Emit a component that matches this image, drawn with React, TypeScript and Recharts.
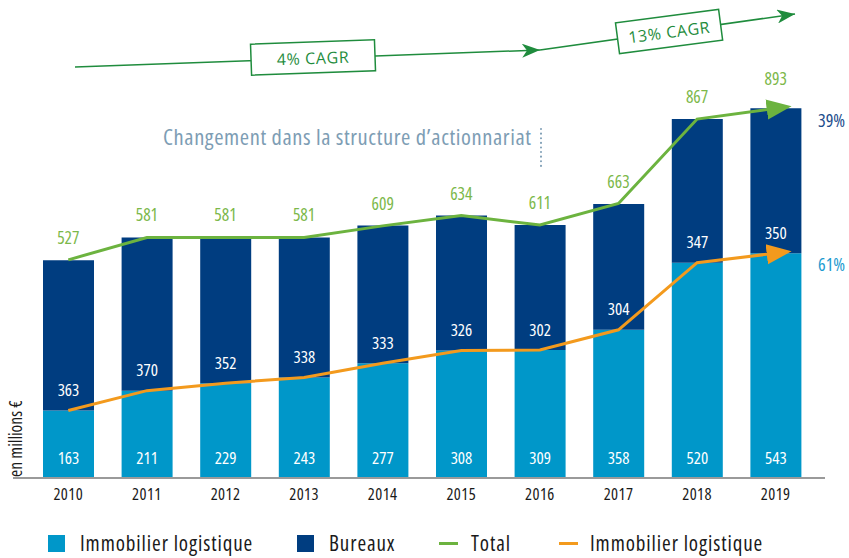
import {
  Bar,
  ComposedChart,
  LabelList,
  Line,
  XAxis,
  YAxis,
} from "recharts";

const FONT = "'Open Sans', 'DejaVu Sans', sans-serif";
const CAGR_FONT = "'Open Sans', 'Lato', sans-serif";

const YEARS = ["2010", "2011", "2012", "2013", "2014", "2015", "2016", "2017", "2018", "2019"];
const LOGISTIQUE = [163, 211, 229, 243, 277, 308, 309, 358, 520, 543];
const BUREAUX = [363, 370, 352, 338, 333, 326, 302, 304, 347, 350];
const TOTAL = [527, 581, 581, 581, 609, 634, 611, 663, 867, 893];

const LIGHT = "#0097c9";
const NAVY = "#003d80";
const GREEN = "#6cb33f";
const GREEN_TXT = "#7cb84a";
const ORANGE = "#f39a1d";
const CAGR_GREEN = "#1f8c3d";

const data = YEARS.map((year, i) => ({
  year,
  logistique: LOGISTIQUE[i],
  bureaux: BUREAUX[i],
  total: TOTAL[i],
}));

// white value label sitting near the bottom edge of a bar segment
const bottomLabel = (p: any) => {
  const { x, y, width, height, value } = p;
  return (
    <text
      x={Number(x) + Number(width) / 2}
      y={Number(y) + Number(height) - 21}
      fill="#fff"
      fontSize={17}
      fontFamily={FONT}
      textAnchor="middle"
      dominantBaseline="central"
    >
      {value}
    </text>
  );
};

const totalLabel = (p: any) => {
  const { x, y, value, index } = p;
  return (
    <text
      x={x}
      y={Number(y) - (index === TOTAL.length - 1 ? 30 : 23)}
      fill={GREEN_TXT}
      fontSize={17.5}
      fontFamily={FONT}
      textAnchor="middle"
      dominantBaseline="central"
    >
      {value}
    </text>
  );
};

function LegendRow() {
  const item = (swatch: any, label: string, left: number, gap: number) => (
    <div style={{ position: "absolute", left, top: 531, display: "flex", alignItems: "center", height: 25 }}>
      {swatch}
      <span
        style={{
          fontFamily: FONT,
          fontSize: 21,
          letterSpacing: 0.9,
          color: "#1a1a1a",
          marginLeft: gap,
          lineHeight: "25px",
        }}
      >
        {label}
      </span>
    </div>
  );
  const square = (c: string) => <span style={{ display: "inline-block", width: 17, height: 17, background: c }} />;
  const dash = (c: string) => <span style={{ display: "inline-block", width: 19, height: 3, background: c }} />;
  return (
    <>
      {item(square(LIGHT), "Immobilier logistique", 48, 15)}
      {item(square(NAVY), "Bureaux", 297, 15)}
      {item(dash(GREEN), "Total", 439, 13)}
      {item(dash(ORANGE), "Immobilier logistique", 559, 12)}
    </>
  );
}

function Annotations() {
  const cagrStyle = { fontStretch: "normal" } as const;
  return (
    <svg
      width={849}
      height={558}
      style={{ position: "absolute", left: 0, top: 0, pointerEvents: "none" }}
    >
      <defs>
        <marker id="cagrArrow" markerUnits="userSpaceOnUse" markerWidth={20} markerHeight={14} refX={18} refY={7} orient="auto">
          <path d="M0,0 L18,7 L0,14 L5,7 z" fill={CAGR_GREEN} />
        </marker>
      </defs>
      {/* CAGR arrows */}
      <line x1={75} y1={67} x2={540} y2={50} stroke={CAGR_GREEN} strokeWidth={1.5} markerEnd="url(#cagrArrow)" />
      <line x1={540} y1={50} x2={795} y2={14} stroke={CAGR_GREEN} strokeWidth={1.5} markerEnd="url(#cagrArrow)" />
      <g transform="translate(313,57) rotate(-2)">
        <rect x={-62} y={-15} width={124} height={31} fill="#fff" stroke={CAGR_GREEN} strokeWidth={1.5} />
        <text x={0} y={1} style={cagrStyle} textAnchor="middle" dominantBaseline="central" fontFamily={CAGR_FONT} fontSize={16} letterSpacing={0.6} fill={CAGR_GREEN}>
          4% CAGR
        </text>
      </g>
      <g transform="translate(669,31) rotate(-7.5)">
        <rect x={-52} y={-15} width={104} height={31} fill="#fff" stroke={CAGR_GREEN} strokeWidth={1.5} />
        <text x={0} y={1} style={cagrStyle} textAnchor="middle" dominantBaseline="central" fontFamily={CAGR_FONT} fontSize={16} letterSpacing={0.6} fill={CAGR_GREEN}>
          13% CAGR
        </text>
      </g>
      {/* shareholder change note */}
      <text x={163} y={145} fontFamily={FONT} fontSize={22.5} letterSpacing={0.6} fill="#7d9db4">
        Changement dans la structure d’actionnariat
      </text>
      <line x1={541} y1={129} x2={541} y2={168} stroke="#7d9db4" strokeWidth={2} strokeDasharray="0.1 4.5" strokeLinecap="round" />
      {/* shares */}
      <text x={818} y={120} dominantBaseline="central" fontFamily={FONT} fontSize={18} fill="#1d4d8c">39%</text>
      <text x={818} y={264} dominantBaseline="central" fontFamily={FONT} fontSize={18} fill="#1d9bd0">61%</text>
      {/* unit */}
      <text transform="translate(22,477) rotate(-90)" fontFamily={FONT} fontSize={17.5} fill="#1a1a1a">
        en millions €
      </text>
    </svg>
  );
}

export default function App() {
  return (
    <div
      style={{
        position: "absolute",
        left: 0,
        top: 0,
        width: 849,
        height: 558,
        background: "#fff",
        fontStretch: "condensed",
      }}
    >
      <svg width={0} height={0} style={{ position: "absolute" }}>
        <defs>
          <marker id="greenHead" markerUnits="userSpaceOnUse" markerWidth={26} markerHeight={22} refX={9} refY={11} orient="auto">
            <path d="M0,1 L25,11 L0,21 z" fill={GREEN} />
          </marker>
          <marker id="orangeHead" markerUnits="userSpaceOnUse" markerWidth={26} markerHeight={22} refX={9} refY={11} orient="auto">
            <path d="M0,1 L25,11 L0,21 z" fill={ORANGE} />
          </marker>
        </defs>
      </svg>
      <ComposedChart
        width={849}
        height={558}
        data={data}
        margin={{ top: 64, right: 24, bottom: 50, left: 13 }}
      >
        <XAxis
          dataKey="year"
          height={30}
          padding={{ left: 16, right: 10 }}
          axisLine={{ stroke: "#9a9a9a", strokeWidth: 2 }}
          tickLine={false}
          tickSize={0}
          tickMargin={10}
          tick={{ fill: "#1a1a1a", fontSize: 16.5, fontFamily: FONT, letterSpacing: 0.4 }}
        />
        <YAxis hide domain={[0, 1000]} />
        <Bar dataKey="logistique" stackId="a" fill={LIGHT} barSize={51} isAnimationActive={false}>
          <LabelList dataKey="logistique" content={bottomLabel} />
        </Bar>
        <Bar dataKey="bureaux" stackId="a" fill={NAVY} barSize={51} isAnimationActive={false}>
          <LabelList dataKey="bureaux" content={bottomLabel} />
        </Bar>
        <Line
          type="linear"
          dataKey="total"
          stroke={GREEN}
          strokeWidth={3}
          dot={false}
          markerEnd="url(#greenHead)"
          isAnimationActive={false}
        >
          <LabelList dataKey="total" content={totalLabel} />
        </Line>
        <Line
          type="linear"
          dataKey="logistique"
          stroke={ORANGE}
          strokeWidth={3}
          dot={false}
          markerEnd="url(#orangeHead)"
          isAnimationActive={false}
        />
      </ComposedChart>
      <Annotations />
      <LegendRow />
    </div>
  );
}
